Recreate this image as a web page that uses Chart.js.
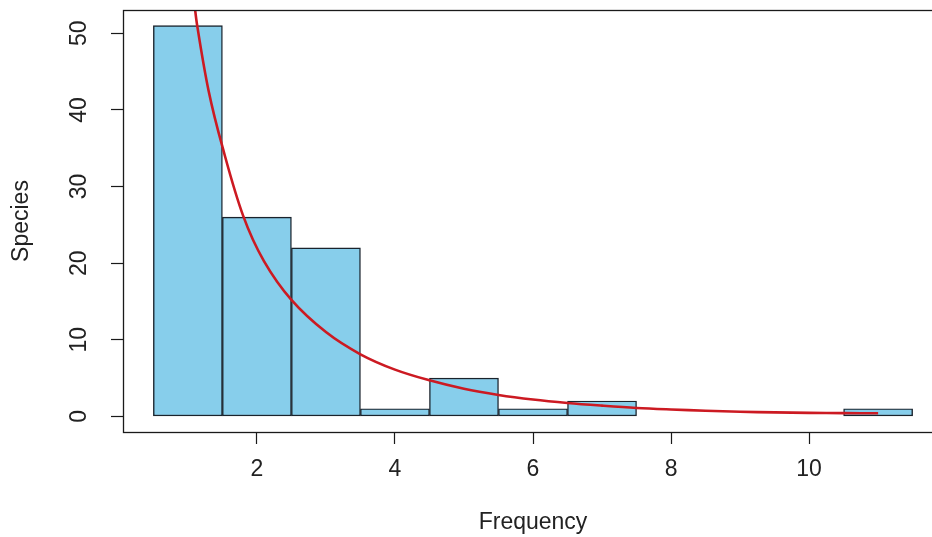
<!DOCTYPE html>
<html>
<head>
<meta charset="utf-8">
<script src="https://cdn.jsdelivr.net/npm/chart.js"></script>
<style>
    html, body { margin: 0; padding: 0; background: #fff; overflow: hidden; }
    #wrap { width: 960px; height: 537px; }
</style>
</head>
<body>
<div id="wrap"><canvas id="myChart" width="960" height="537"></canvas></div>
<script>
    // histogram: one bar per frequency value (bin width 1)
    var binCenters = [1, 2, 3, 4, 5, 6, 7, 8, 9, 10, 11];
    var speciesCounts = [51, 26, 22, 1, 5, 1, 2, 0, 0, 0, 1];

    // fitted curve
    var curveX = [1.08, 1.135, 1.3, 1.5, 1.8, 2.1, 2.5, 3.0, 3.5, 4.0, 4.5, 5.0, 5.5, 6.0, 6.5, 7.0, 7.5, 8.0, 8.5, 9.0, 9.5, 10.0, 10.5, 11.0];
    var curveY = [55, 51, 42.5, 35.2, 26.2, 20.3, 15.2, 11.0, 8.1, 6.1, 4.7, 3.6, 2.8, 2.2, 1.75, 1.4, 1.1, 0.9, 0.74, 0.61, 0.52, 0.46, 0.42, 0.4];

    var xTicks = [2, 4, 6, 8, 10];
    var yTicks = [0, 10, 20, 30, 40, 50];

    var textColor = '#222';
    var tickFont = { family: 'Liberation Sans, Arial, sans-serif', size: 23 };

    // R style box around the plot region
    var boxPlugin = {
        id: 'plotBox',
        afterDatasetsDraw: function (chart) {
            var a = chart.chartArea, ctx = chart.ctx;
            ctx.save();
            ctx.strokeStyle = '#1a1a1a';
            ctx.lineWidth = 1.3;
            ctx.strokeRect(Math.round(a.left) + 0.5, Math.round(a.top) + 0.5,
                Math.round(a.right - a.left), Math.round(a.bottom - a.top));
            ctx.restore();
        }
    };

    var ctx = document.getElementById('myChart').getContext('2d');
    new Chart(ctx, {
        data: {
            datasets: [{
                type: 'line',
                order: 0,
                data: curveX.map(function (x, i) { return { x: x, y: curveY[i] }; }),
                borderColor: '#cc1a22',
                borderWidth: 2.6,
                pointRadius: 0,
                tension: 0.35,
                fill: false
            }, {
                type: 'bar',
                order: 1,
                data: binCenters.map(function (x, i) { return { x: x, y: speciesCounts[i] }; }),
                backgroundColor: '#87ceeb',
                borderColor: '#1a232c',
                borderWidth: 1.4,
                borderSkipped: false,
                barPercentage: 1,
                categoryPercentage: 1
            }]
        },
        options: {
            responsive: false,
            animation: false,
            layout: { padding: { top: 10, right: 17, left: 0, bottom: 0 } },
            plugins: { legend: { display: false }, tooltip: { enabled: false } },
            scales: {
                x: {
                    type: 'linear',
                    min: 0.06,
                    max: 11.94,
                    offset: false,
                    afterBuildTicks: function (s) { s.ticks = xTicks.map(function (v) { return { value: v }; }); },
                    afterFit: function (s) { s.height = 105; s.paddingLeft = 0; s.paddingRight = 0; },
                    grid: { offset: false, drawOnChartArea: false, drawTicks: true, tickLength: 12, tickColor: '#1a1a1a', tickWidth: 1.2 },
                    border: { display: false },
                    ticks: { color: textColor, font: tickFont, padding: 12, maxRotation: 0, autoSkip: false },
                    title: { display: true, text: 'Frequency', color: textColor, font: tickFont, padding: { top: 0, bottom: 1 } }
                },
                y: {
                    type: 'linear',
                    min: -2.04,
                    max: 53.04,
                    afterBuildTicks: function (s) { s.ticks = yTicks.map(function (v) { return { value: v }; }); },
                    afterFit: function (s) { s.width = 123; s.paddingTop = 0; s.paddingBottom = 0; },
                    grid: { drawOnChartArea: false, drawTicks: true, tickLength: 12, tickColor: '#1a1a1a', tickWidth: 1.2 },
                    border: { display: false },
                    ticks: { color: textColor, font: tickFont, padding: 19, minRotation: 90, maxRotation: 90, crossAlign: 'center', autoSkip: false },
                    title: { display: true, text: 'Species', color: textColor, font: tickFont, padding: { top: 8, bottom: 0 } }
                }
            }
        },
        plugins: [boxPlugin]
    });
</script>
</body>
</html>
